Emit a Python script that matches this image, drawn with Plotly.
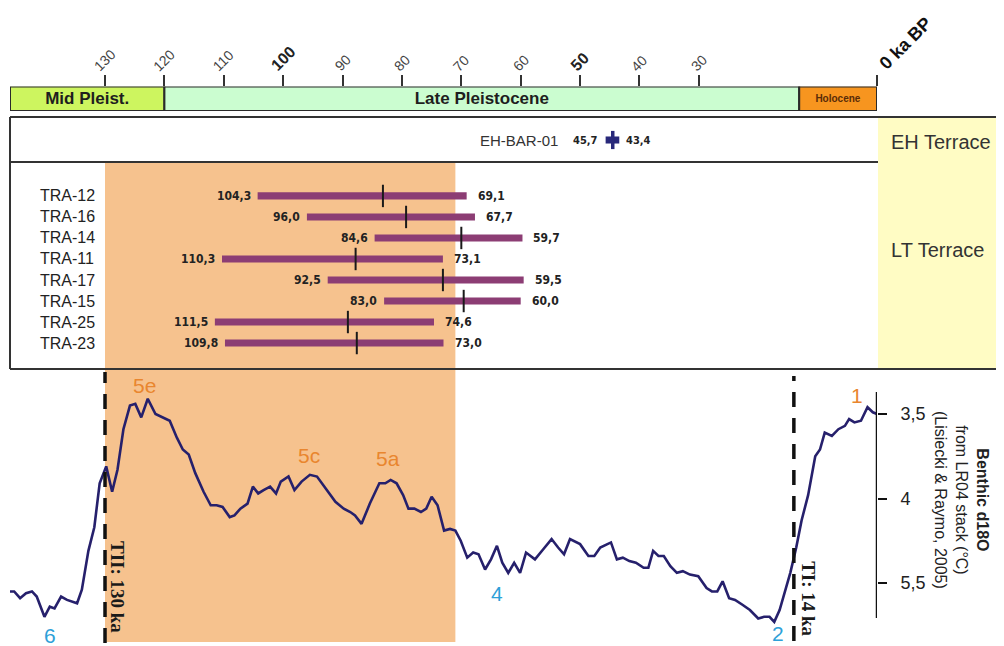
import plotly.graph_objects as go

# ---------------- DATA ----------------
top_ticks = [130, 120, 110, 100, 90, 80, 70, 60, 50, 40, 30, 0]
top_tick_text = ["130", "120", "110", "<b>100</b>", "90", "80", "70", "60",
                 "<b>50</b>", "40", "30", "<b>0 ka BP</b>"]

epochs = ["Mid Pleist.", "Late Pleistocene", "Holocene"]
epoch_old = [146.0, 120.0, 13.1]
epoch_young = [120.0, 13.1, 0.0]

eh_samples = ["EH-BAR-01"]
eh_old = [45.7]
eh_young = [43.4]
eh_mid = [44.5]

tra_samples = ["TRA-12", "TRA-16", "TRA-14", "TRA-11", "TRA-17", "TRA-15", "TRA-25", "TRA-23"]
tra_old = [104.3, 96.0, 84.6, 110.3, 92.5, 83.0, 111.5, 109.8]
tra_young = [69.1, 67.7, 59.7, 73.1, 59.5, 60.0, 74.6, 73.0]
tra_mid = [83.2, 79.3, 70.0, 87.8, 73.1, 69.6, 89.1, 87.6]

mis5_old, mis5_young = 130.0, 71.0
terminations = [130.0, 14.0]
termination_labels = ["TII: 130 ka", "TI: 14 ka"]

lr04_age = [146.0, 145.3, 144.3, 143.3, 142.3, 141.5, 140.2, 139.3, 138.5, 137.4,
            136.4, 134.7, 133.9, 132.8, 131.8, 130.9, 129.8, 128.8, 127.9, 126.9,
            125.8, 124.9, 123.9, 122.8, 121.5, 120.4, 119.1,
            117.9, 116.9, 115.9, 114.8, 113.4, 112.2, 111.2, 110.2, 109.0, 108.2,
            107.2, 106.0, 105.1, 104.2, 103.3, 102.2, 101.2, 100.4, 99.1, 98.1,
            96.9, 95.5, 94.3, 92.9, 91.2, 89.8, 88.7,
            87.9, 86.8, 85.4, 83.8, 82.8, 81.9, 80.9, 79.8, 78.9, 77.9,
            76.8, 75.9, 75.0, 74.0, 72.9, 71.9, 71.0, 70.1, 69.0, 68.0,
            67.1, 66.0, 65.0, 64.0, 63.1, 62.1, 61.1, 60.1,
            59.1, 57.6, 56.2, 54.8, 53.7, 52.7, 51.7, 50.0, 48.6, 47.6,
            46.6, 44.8, 43.8, 42.8, 41.7, 40.6, 39.3, 38.5, 37.7, 36.8,
            35.9, 34.8, 33.7, 32.7, 31.5, 30.1,
            28.7, 27.8, 26.9, 26.0, 24.9, 23.9, 22.6, 21.4, 20.0, 19.0,
            18.1, 17.3, 16.4, 15.7, 14.6, 13.6, 12.7, 11.6, 10.4, 9.6,
            8.8, 7.6, 6.5, 5.4, 4.7, 3.8, 2.7, 1.6, 0.7, 0.0]
lr04_d18o = [4.55, 4.55, 4.59, 4.56, 4.55, 4.58, 4.70, 4.64, 4.65, 4.58,
             4.60, 4.62, 4.54, 4.31, 4.17, 3.91, 3.81, 3.96, 3.83, 3.59,
             3.45, 3.44, 3.52, 3.41, 3.50, 3.52, 3.54,
             3.64, 3.71, 3.74, 3.85, 3.96, 4.04, 4.04, 4.05, 4.11, 4.10,
             4.06, 4.03, 3.93, 3.97, 3.95, 3.93, 3.97, 3.90, 3.87, 3.95,
             3.90, 3.86, 3.87, 3.94, 4.02, 4.06, 4.08,
             4.10, 4.15, 4.03, 3.91, 3.91, 3.89, 3.91, 3.98, 4.06, 4.06,
             4.08, 4.06, 3.99, 4.04, 4.19, 4.18, 4.19, 4.25, 4.35, 4.32,
             4.33, 4.42, 4.36, 4.28, 4.38, 4.44, 4.38, 4.44,
             4.32, 4.36, 4.30, 4.24, 4.29, 4.33, 4.24, 4.27, 4.34, 4.34,
             4.29, 4.26, 4.36, 4.35, 4.37, 4.38, 4.41, 4.41, 4.31, 4.34,
             4.34, 4.40, 4.44, 4.43, 4.45, 4.46,
             4.53, 4.55, 4.55, 4.49, 4.59, 4.60, 4.63, 4.66, 4.71, 4.70,
             4.70, 4.73, 4.66, 4.58, 4.44, 4.29, 4.13, 3.98, 3.75, 3.71,
             3.61, 3.63, 3.59, 3.57, 3.53, 3.55, 3.54, 3.46, 3.49, 3.50]

d18o_ticks = [3.5, 4.0, 4.5]
d18o_tick_text = ["3,5", "4", "5,5"]
d18o_axis_span = [3.37, 4.707]

mis_labels = ["5e", "5c", "5a", "1", "6", "4", "2"]
mis_age = [123.4, 95.6, 82.3, 3.4, 139.2, 64.0, 16.7]
mis_d18o = [3.334, 3.743, 3.766, 3.388, 4.808, 4.565, 4.80]
mis_warm = [True, True, True, True, False, False, False]

# ---------------- STYLE / GEOMETRY ----------------
OFF = 8                      # page body margin of the browser
W, H = 1004 - OFF, 646 - OFF
PLOT_L, PLOT_R = 10, 877     # reference pixels of 146 ka and 0 ka
ML = PLOT_L - OFF
MR = W - (PLOT_R - OFF)
FONT = "Liberation Sans, Arial, sans-serif"
NARROW = "Liberation Sans Narrow, Arial Narrow, DejaVu Sans Condensed, Liberation Sans, sans-serif"
SERIF = "Liberation Serif, Times New Roman, serif"


def py(px):
    return 1 - (px - OFF) / H


def pxx(px):
    return (px - PLOT_L) / (PLOT_R - PLOT_L)


epoch_colors = ["#cdf55f", "#cbfdd0", "#f7951f"]
epoch_font = [dict(size=17, color="#1e1e1e", family=FONT),
              dict(size=17, color="#1e1e1e", family=FONT),
              dict(size=10, color="#5a2c08", family=FONT)]

fig = go.Figure()

# epoch bar
for i, name in enumerate(epochs):
    fig.add_trace(go.Bar(
        orientation="h", y=[0], x=[epoch_old[i] - epoch_young[i]], base=[epoch_young[i]],
        width=1, marker=dict(color=epoch_colors[i], line=dict(color="#2a2a2a", width=2)),
        text=["<b>%s</b>" % name], textposition="inside", insidetextanchor="middle",
        textangle=0, constraintext="none", textfont=epoch_font[i],
        xaxis="x", yaxis="y", hoverinfo="skip"))

# EH sample
fig.add_trace(go.Bar(
    orientation="h", y=[0], x=[eh_old[0] - eh_young[0]], base=[eh_young[0]], width=0.32,
    marker=dict(color="#28287a", line=dict(width=0)), xaxis="x", yaxis="y2", hoverinfo="skip"))
fig.add_trace(go.Scatter(
    x=eh_mid, y=[0], mode="markers", xaxis="x", yaxis="y2",
    marker=dict(symbol="line-ns", size=13, line=dict(color="#28287a", width=3.5)), hoverinfo="skip"))

# TRA samples
rows = list(range(len(tra_samples)))
fig.add_trace(go.Bar(
    orientation="h", y=rows, x=[o - y for o, y in zip(tra_old, tra_young)], base=tra_young,
    width=0.34, marker=dict(color="#8c3d74", line=dict(width=0)),
    xaxis="x", yaxis="y3", hoverinfo="skip"))
fig.add_trace(go.Scatter(
    x=tra_mid, y=rows, mode="markers", xaxis="x", yaxis="y3",
    marker=dict(symbol="line-ns", size=16, line=dict(color="#1a1a1a", width=2)), hoverinfo="skip"))

# LR04 curve
fig.add_trace(go.Scatter(
    x=lr04_age, y=lr04_d18o, mode="lines", xaxis="x", yaxis="y4",
    line=dict(color="#26206c", width=2.6), hoverinfo="skip"))

shapes = []
# MIS5 shading
shapes.append(dict(type="rect", xref="x", yref="paper", x0=mis5_old, x1=mis5_young,
                   y0=py(642), y1=py(163), fillcolor="#f6c28e", line=dict(width=0), layer="below"))
# yellow terrace panel
shapes.append(dict(type="rect", xref="paper", yref="paper", x0=pxx(878), x1=pxx(1006),
                   y0=py(368), y1=py(118), fillcolor="#fffcc4", line=dict(width=0), layer="below"))
# box borders
for yy in (117, 369):
    shapes.append(dict(type="line", xref="paper", yref="paper", x0=pxx(10), x1=pxx(1006),
                       y0=py(yy), y1=py(yy), line=dict(color="#333333", width=2)))
shapes.append(dict(type="line", xref="paper", yref="paper", x0=pxx(10), x1=pxx(10),
                   y0=py(117), y1=py(369), line=dict(color="#333333", width=2)))
shapes.append(dict(type="line", xref="paper", yref="paper", x0=pxx(10), x1=pxx(878),
                   y0=py(162), y1=py(162), line=dict(color="#333333", width=2)))
# termination dashed lines
term_top = [372, 376]
term_bot = [643, 641]
for t, a, b in zip(terminations, term_top, term_bot):
    shapes.append(dict(type="line", xref="x", yref="paper", x0=t, x1=t, y0=py(b), y1=py(a),
                       line=dict(color="#111111", width=3.5, dash="15px,11px")))
# d18O axis line
shapes.append(dict(type="line", xref="x", yref="y4", x0=0, x1=0,
                   y0=d18o_axis_span[0], y1=d18o_axis_span[1], line=dict(color="#111111", width=2.5)))

ann = []
# top tick labels
for t, txt in zip(top_ticks, top_tick_text):
    if t == 0:
        ann.append(dict(x=t, xref="x", y=py(76), yref="paper", text=txt, showarrow=False,
                        textangle=-45, xanchor="left", yanchor="bottom", xshift=-4,
                        font=dict(size=18, color="#111111", family=FONT)))
    else:
        big = txt.startswith("<b>")
        ann.append(dict(x=t, xref="x", y=py(77), yref="paper", text=txt, showarrow=False,
                        textangle=-45, xanchor="center", yanchor="bottom",
                        font=dict(size=16 if big else 14, color="#222222" if big else "#444444", family=FONT)))

# EH labels
ann.append(dict(x=pxx(560), xref="paper", y=0, yref="y2", text=eh_samples[0], showarrow=False,
                xanchor="right", yanchor="middle", font=dict(size=15, color="#333333", family=FONT)))
ann.append(dict(x=eh_old[0], xref="x", y=0, yref="y2", text="<b>%s</b>" % f"{eh_old[0]:.1f}".replace(".", ","),
                showarrow=False, xanchor="right", xshift=-6, font=dict(size=11, color="#222222", family=NARROW)))
ann.append(dict(x=eh_young[0], xref="x", y=0, yref="y2", text="<b>%s</b>" % f"{eh_young[0]:.1f}".replace(".", ","),
                showarrow=False, xanchor="left", xshift=5, font=dict(size=11, color="#222222", family=NARROW)))

# TRA labels
for i, s in enumerate(tra_samples):
    ann.append(dict(x=pxx(38), xref="paper", y=i, yref="y3", text=s, showarrow=False,
                    xanchor="left", yanchor="middle", font=dict(size=16, color="#222222", family=FONT)))
    ann.append(dict(x=tra_old[i], xref="x", y=i, yref="y3",
                    text="<b>%s</b>" % f"{tra_old[i]:.1f}".replace(".", ","), showarrow=False,
                    xanchor="right", xshift=-5, font=dict(size=12, color="#222222", family=NARROW)))
    ann.append(dict(x=tra_young[i], xref="x", y=i, yref="y3",
                    text="<b>%s</b>" % f"{tra_young[i]:.1f}".replace(".", ","), showarrow=False,
                    xanchor="left", xshift=9, font=dict(size=12, color="#222222", family=NARROW)))

# terrace names
ann.append(dict(x=pxx(889), xref="paper", y=py(142), yref="paper", text="EH Terrace", showarrow=False,
                xanchor="left", yanchor="middle", font=dict(size=20, color="#333333", family=FONT)))
ann.append(dict(x=pxx(889), xref="paper", y=py(250), yref="paper", text="LT Terrace", showarrow=False,
                xanchor="left", yanchor="middle", font=dict(size=20, color="#333333", family=FONT)))

# termination labels
term_ycenter = [587, 599]
term_shift = [13, 15]
for t, lab, yc, sh in zip(terminations, termination_labels, term_ycenter, term_shift):
    ann.append(dict(x=t, xref="x", y=py(yc), yref="paper", text="<b>%s</b>" % lab, showarrow=False,
                    textangle=90, xshift=sh, xanchor="center", yanchor="middle",
                    font=dict(size=19, color="#1a1a1a", family=SERIF)))

# MIS labels
for lab, a, d, warm in zip(mis_labels, mis_age, mis_d18o, mis_warm):
    ann.append(dict(x=a, xref="x", y=d, yref="y4", text=lab, showarrow=False,
                    xanchor="center", yanchor="middle",
                    font=dict(size=21, color="#e9862f" if warm else "#2ea0d8", family=FONT)))

# right axis title
ann.append(dict(x=pxx(962), xref="paper", y=py(500), yref="paper", textangle=90, showarrow=False,
                xanchor="center", yanchor="middle",
                text="<b>Benthic d18O</b><br>from LR04 stack (°C)<br>(Lisiecki & Raymo, 2005)",
                font=dict(size=16, color="#222222", family=FONT)))

y4_range = [3.5 + (646 - 414) / 169.0, 3.5 + (372 - 414) / 169.0]

fig.update_layout(
    width=W, height=H, margin=dict(l=ML, r=MR, t=0, b=0, autoexpand=False),
    paper_bgcolor="white", plot_bgcolor="rgba(0,0,0,0)",
    showlegend=False, barmode="overlay", hovermode=False,
    font=dict(family=FONT),
    xaxis=dict(range=[146.0, 0.0], domain=[0, 1], anchor="y", side="top",
               tickmode="array", tickvals=top_ticks, showticklabels=False,
               ticks="outside", ticklen=11, tickwidth=2, tickcolor="#333333",
               showgrid=False, zeroline=False, showline=False, fixedrange=True),
    yaxis=dict(domain=[py(111), py(86.5)], range=[-0.5, 0.5], visible=False, fixedrange=True),
    yaxis2=dict(domain=[py(162), py(118)], range=[-1, 1], visible=False, anchor="x", fixedrange=True),
    yaxis3=dict(domain=[py(370), py(163)], range=[7 + 27 / 21.05, -33 / 21.05], visible=False,
                anchor="x", fixedrange=True),
    yaxis4=dict(domain=[py(646), py(372)], range=y4_range, anchor="x", side="right",
                tickmode="array", tickvals=d18o_ticks, ticktext=d18o_tick_text,
                ticks="outside", ticklen=9, tickwidth=2, tickcolor="#111111",
                tickfont=dict(size=18, color="#222222", family=FONT), ticklabelstandoff=10,
                showgrid=False, zeroline=False, showline=False, fixedrange=True),
    shapes=shapes, annotations=ann,
)

fig.write_html("out.html")
